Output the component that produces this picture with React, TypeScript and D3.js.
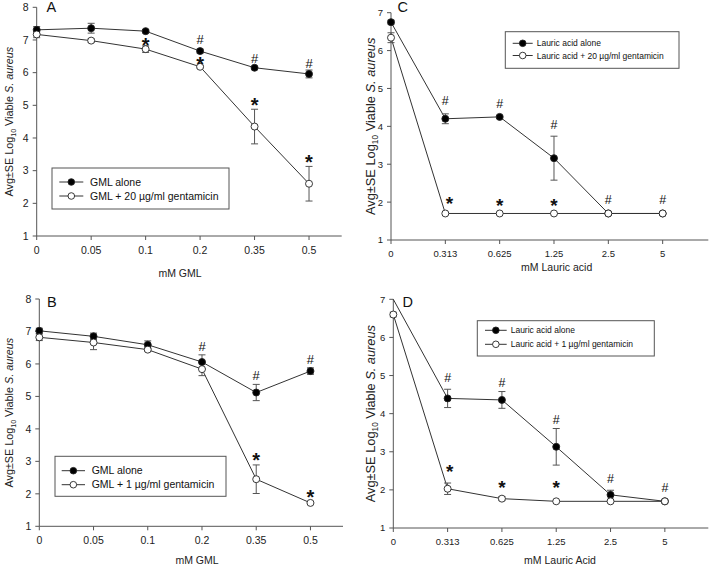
import React, { useEffect, useRef } from "react";
import * as d3 from "d3";

// ---------- data ----------
const xLabelsGML = ["0", "0.05", "0.1", "0.2", "0.35", "0.5"];
const xLabelsLauric = ["0", "0.313", "0.625", "1.25", "2.5", "5"];

const aAlone = [7.31, 7.36, 7.27, 6.66, 6.15, 5.96];
const aAloneErr = [0.1, 0.15, 0.05, 0.06, 0.04, 0.12];
const aGent = [7.17, 6.98, 6.72, 6.18, 4.35, 2.6];
const aGentErr = [0.1, 0.05, 0.1, 0.04, 0.53, 0.53];

const bAlone = [7.02, 6.85, 6.59, 6.06, 5.12, 5.78];
const bAloneErr = [0.08, 0.1, 0.12, 0.22, 0.25, 0.1];
const bGent = [6.82, 6.66, 6.44, 5.84, 2.45, 1.72];
const bGentErr = [0.1, 0.22, 0.05, 0.2, 0.44, 0.03];

const cAlone = [6.75, 4.2, 4.25, 3.16, 1.7, 1.7];
const cAloneErr = [0.05, 0.13, 0.04, 0.58, 0, 0];
const cGent = [6.34, 1.7, 1.7, 1.7, 1.7, 1.7];
const cGentErr = [0.13, 0, 0, 0, 0, 0];

const dAlone = [7.0, 4.4, 4.36, 3.13, 1.87, 1.7];
const dAloneErr = [0, 0.24, 0.22, 0.48, 0.12, 0];
const dGent = [6.6, 2.03, 1.77, 1.7, 1.7, 1.7];
const dGentErr = [0.06, 0.15, 0.05, 0, 0, 0];

// significance marks: [category index, symbol, value position]
const aMarks: [number, string, number][] = [
  [2, "*", 6.94], [3, "#", 7.03], [3, "*", 6.36], [4, "#", 6.45], [4, "*", 5.1], [5, "#", 6.3], [5, "*", 3.36],
];
const bMarks: [number, string, number][] = [
  [3, "#", 6.54], [4, "#", 5.64], [5, "#", 6.13], [4, "*", 3.16], [5, "*", 2.0],
];
const cMarks: [number, string, number][] = [
  [1, "#", 4.67], [2, "#", 4.59], [3, "#", 4.06], [1, "*", 2.06], [2, "*", 2.01], [3, "*", 2.0], [4, "#", 2.06], [5, "#", 2.06],
];
const dMarks: [number, string, number][] = [
  [1, "#", 4.96], [2, "#", 4.81], [3, "#", 3.84], [4, "#", 2.29], [5, "#", 2.07], [1, "*", 2.57], [2, "*", 2.14], [3, "*", 2.15],
];

const legendA = ["GML alone", "GML + 20 \u00b5g/ml gentamicin"];
const legendB = ["GML alone", "GML + 1 \u00b5g/ml gentamicin"];
const legendC = ["Lauric acid alone", "Lauric acid + 20 \u00b5g/ml gentamicin"];
const legendD = ["Lauric acid alone", "Lauric acid + 1 \u00b5g/ml gentamicin"];

const FONT = "'Liberation Sans', Arial, Helvetica, sans-serif";

type Panel = {
  letter: string; letterX: number; letterY: number;
  xLabels: string[]; xTitle: string; xTitleX: number; xTitleY: number;
  yMax: number; xL: number; xR: number; xEnd: number; yTop: number; yBot: number;
  tickFs: number; yTitleFs: number; yTitleX: number;
  alone: number[]; aloneErr: number[]; gent: number[]; gentErr: number[];
  marks: [number, string, number][]; markDx: Record<string, number>; hashFs: number; starFs: number;
  legend: string[]; lgX: number; lgY: number; lgW: number; lgH: number; lgRows: number[];
  lgL0: number; lgL1: number; lgT: number; lgFs: number;
  xTickBase: number;
};

const panels: Panel[] = [
  {
    letter: "A", letterX: 46.5, letterY: 12, xLabels: xLabelsGML, xTitle: "mM GML", xTitleX: 180, xTitleY: 277,
    yMax: 8, xL: 36.7, xR: 341.7, xEnd: 5.6, yTop: 7.3, yBot: 236, tickFs: 10.5, yTitleFs: 10.8, yTitleX: 13,
    alone: aAlone, aloneErr: aAloneErr, gent: aGent, gentErr: aGentErr,
    marks: aMarks, markDx: {}, hashFs: 13, starFs: 20,
    legend: legendA, lgX: 52, lgY: 168, lgW: 177, lgH: 41, lgRows: [182, 196], lgL0: 59.3, lgL1: 83.3, lgT: 90, lgFs: 10.5,
    xTickBase: 254,
  },
  {
    letter: "B", letterX: 47, letterY: 306.5, xLabels: xLabelsGML, xTitle: "mM GML", xTitleX: 197, xTitleY: 563.5,
    yMax: 8, xL: 39.3, xR: 343, xEnd: 5.6, yTop: 299, yBot: 526.3, tickFs: 10.5, yTitleFs: 10.8, yTitleX: 13,
    alone: bAlone, aloneErr: bAloneErr, gent: bGent, gentErr: bGentErr,
    marks: bMarks, markDx: {}, hashFs: 13, starFs: 20,
    legend: legendB, lgX: 55, lgY: 456.3, lgW: 171, lgH: 40, lgRows: [470.7, 484.7], lgL0: 61.7, lgL1: 85, lgT: 91.7, lgFs: 10.5,
    xTickBase: 544,
  },
  {
    letter: "C", letterX: 397.5, letterY: 12, xLabels: xLabelsLauric, xTitle: "mM Lauric acid", xTitleX: 556.7, xTitleY: 270.5,
    yMax: 7, xL: 391, xR: 708.3, xEnd: 5.84, yTop: 12.7, yBot: 240, tickFs: 9.5, yTitleFs: 12.8, yTitleX: 374.5,
    alone: cAlone, aloneErr: cAloneErr, gent: cGent, gentErr: cGentErr,
    marks: cMarks, markDx: { "1*": 4 }, hashFs: 12.5, starFs: 19,
    legend: legendC, lgX: 505.3, lgY: 31.7, lgW: 173.7, lgH: 36.6, lgRows: [43.3, 55.5], lgL0: 512.7, lgL1: 532.7, lgT: 536.7, lgFs: 8.5,
    xTickBase: 257,
  },
  {
    letter: "D", letterX: 402.5, letterY: 306.8, xLabels: xLabelsLauric, xTitle: "mM Lauric Acid", xTitleX: 560, xTitleY: 563.5,
    yMax: 7, xL: 393.3, xR: 708.3, xEnd: 5.8, yTop: 299.3, yBot: 528, tickFs: 9.5, yTitleFs: 12.8, yTitleX: 374.5,
    alone: dAlone, aloneErr: dAloneErr, gent: dGent, gentErr: dGentErr,
    marks: dMarks, markDx: { "1*": 2 }, hashFs: 12.5, starFs: 19,
    legend: legendD, lgX: 477.3, lgY: 320.7, lgW: 177, lgH: 35.3, lgRows: [330.3, 344.3], lgL0: 485, lgL1: 506.7, lgT: 510.7, lgFs: 8.5,
    xTickBase: 545,
  },
];

export default function App() {
  const ref = useRef<SVGSVGElement | null>(null);

  useEffect(() => {
    const svg = d3.select(ref.current);
    svg.selectAll("*").remove();
    const axisColor = "#555";
    const lineColor = "#333";

    panels.forEach((p) => {
      const g = svg.append("g");
      const x = d3.scaleLinear().domain([0, p.xEnd]).range([p.xL, p.xR]);
      const y = d3.scaleLinear().domain([1, p.yMax]).range([p.yBot, p.yTop]);

      // axes
      g.append("line").attr("x1", p.xL).attr("x2", p.xL).attr("y1", p.yTop).attr("y2", p.yBot)
        .attr("stroke", axisColor).attr("stroke-width", 1);
      g.append("line").attr("x1", p.xL).attr("x2", p.xR).attr("y1", p.yBot).attr("y2", p.yBot)
        .attr("stroke", axisColor).attr("stroke-width", 1);

      const yTicks = d3.range(1, p.yMax + 1);
      yTicks.forEach((t) => {
        g.append("line").attr("x1", p.xL - 4).attr("x2", p.xL).attr("y1", y(t)).attr("y2", y(t))
          .attr("stroke", axisColor);
        g.append("text").attr("x", p.xL - 8).attr("y", y(t) + p.tickFs * 0.36)
          .attr("text-anchor", "end").attr("font-size", p.tickFs).attr("font-family", FONT).attr("fill", "#222")
          .text(String(t));
      });
      p.xLabels.forEach((lab, i) => {
        g.append("line").attr("x1", x(i)).attr("x2", x(i)).attr("y1", p.yBot).attr("y2", p.yBot + 4)
          .attr("stroke", axisColor);
        g.append("text").attr("x", x(i)).attr("y", p.xTickBase)
          .attr("text-anchor", "middle").attr("font-size", p.tickFs).attr("font-family", FONT).attr("fill", "#222")
          .text(lab);
      });

      // axis titles
      g.append("text").attr("x", p.xTitleX).attr("y", p.xTitleY).attr("text-anchor", "middle")
        .attr("font-size", 10.5).attr("font-family", FONT).attr("fill", "#222").text(p.xTitle);

      const yMid = (p.yTop + p.yBot) / 2;
      const yt = g.append("text").attr("transform", `translate(${p.yTitleX},${yMid}) rotate(-90)`)
        .attr("text-anchor", "middle").attr("font-size", p.yTitleFs).attr("font-family", FONT).attr("fill", "#222");
      yt.append("tspan").text("Avg\u00b1SE Log");
      yt.append("tspan").attr("font-size", p.yTitleFs * 0.65).attr("dy", p.yTitleFs * 0.25).text("10");
      yt.append("tspan").attr("dy", -p.yTitleFs * 0.25).text(" Viable ");
      yt.append("tspan").attr("font-style", "italic").text("S. aureus");

      // panel letter
      g.append("text").attr("x", p.letterX).attr("y", p.letterY).attr("font-size", 14.5)
        .attr("font-family", FONT).attr("fill", "#111").text(p.letter);

      const series = [
        { vals: p.alone, err: p.aloneErr, filled: true },
        { vals: p.gent, err: p.gentErr, filled: false },
      ];
      const lineGen = d3.line<number>().x((_, i) => x(i)).y((v) => y(v));
      series.forEach((s) => {
        g.append("path").attr("d", lineGen(s.vals) || "").attr("fill", "none")
          .attr("stroke", lineColor).attr("stroke-width", 1);
      });
      // error bars
      series.forEach((s) => {
        s.vals.forEach((v, i) => {
          const e = s.err[i];
          if (!e) return;
          const cx = x(i);
          const y1 = y(v + e), y2 = y(v - e);
          g.append("line").attr("x1", cx).attr("x2", cx).attr("y1", y1).attr("y2", y2).attr("stroke", "#555");
          [y1, y2].forEach((yy) => {
            g.append("line").attr("x1", cx - 3.5).attr("x2", cx + 3.5).attr("y1", yy).attr("y2", yy).attr("stroke", "#555");
          });
        });
      });
      // markers
      series.forEach((s) => {
        s.vals.forEach((v, i) => {
          if (v >= p.yMax) return;
          g.append("circle").attr("cx", x(i)).attr("cy", y(v)).attr("r", 3.5)
            .attr("fill", s.filled ? "#000" : "#fff").attr("stroke", "#222").attr("stroke-width", 0.9);
        });
      });

      // significance marks
      p.marks.forEach(([i, sym, v]) => {
        const fs = sym === "*" ? p.starFs : p.hashFs;
        const off = sym === "*" ? 0.52 * fs : 0.36 * fs;
        const dx = p.markDx[`${i}${sym}`] || 0;
        g.append("text").attr("x", x(i) + dx).attr("y", y(v) + off).attr("text-anchor", "middle")
          .attr("font-size", fs).attr("font-family", FONT).attr("font-weight", sym === "*" ? "bold" : "normal")
          .attr("fill", "#111").text(sym);
      });

      // legend
      g.append("rect").attr("x", p.lgX).attr("y", p.lgY).attr("width", p.lgW).attr("height", p.lgH)
        .attr("fill", "#fff").attr("stroke", "#555").attr("stroke-width", 1);
      series.forEach((s, k) => {
        const ry = p.lgRows[k];
        g.append("line").attr("x1", p.lgL0).attr("x2", p.lgL1).attr("y1", ry).attr("y2", ry)
          .attr("stroke", lineColor);
        g.append("circle").attr("cx", (p.lgL0 + p.lgL1) / 2).attr("cy", ry).attr("r", 3.3)
          .attr("fill", s.filled ? "#000" : "#fff").attr("stroke", "#222").attr("stroke-width", 0.9);
        g.append("text").attr("x", p.lgT).attr("y", ry + p.lgFs * 0.36).attr("font-size", p.lgFs)
          .attr("font-family", FONT).attr("fill", "#111").text(p.legend[k]);
      });
    });
  }, []);

  return (
    <svg
      ref={ref}
      width={720}
      height={566}
      style={{ position: "absolute", left: 0, top: 0, background: "#fff" }}
    />
  );
}
